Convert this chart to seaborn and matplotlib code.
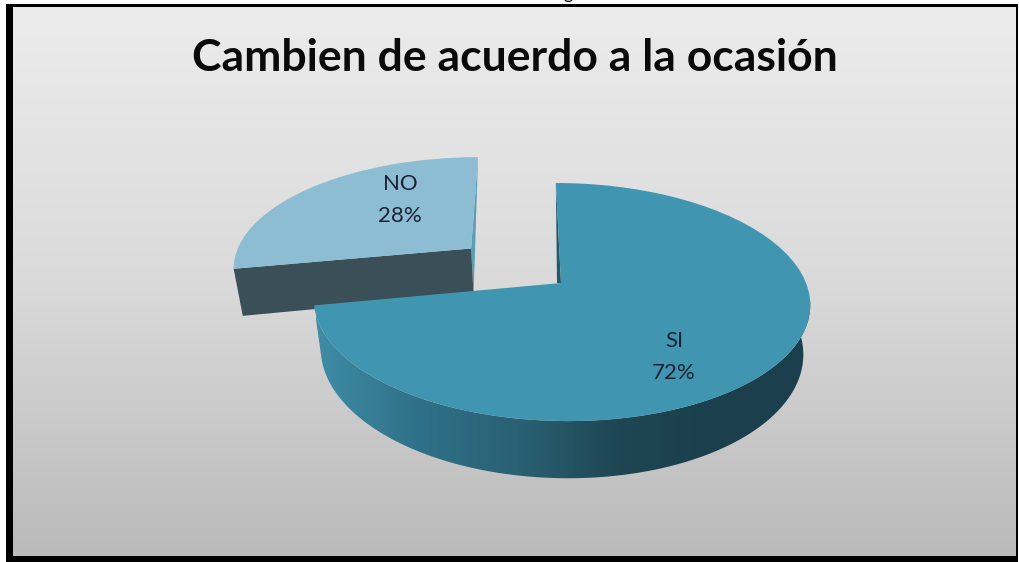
import numpy as np
import matplotlib
matplotlib.use('Agg')
import matplotlib.pyplot as plt
import matplotlib.transforms as mtransforms
from matplotlib.patches import Polygon, Rectangle
import seaborn as sns

# chart data
categories = ['SI', 'NO']
values = [72, 28]
title_text = 'Cambien de acuerdo a la ocasión'
explode = [0, 0.49]
top_colors = ['#4096b1', '#8dbdd3']

sns.set_theme(style='white')
plt.rcParams['font.family'] = ['Lato', 'DejaVu Sans']

# where the pie lands on the page, in pixels
CX, CY = 561, 283
RX, RY = 245, 116
PERSP = 0.16
SHEAR = 6
DEPTH = 48
SHRINK = 0.028


class PieProjection(mtransforms.Transform):
    """Tilts the flat pie (radius 1) into page pixels, z=1 is the underside."""
    input_dims = 2
    output_dims = 2

    def __init__(self, z=0.0):
        super().__init__()
        self.z = z

    def transform_non_affine(self, pts):
        pts = np.asarray(pts, dtype=float)
        u, v = pts[:, 0], pts[:, 1]
        w = 1 + PERSP * v
        x = CX + (RX * (1 - SHRINK * self.z) * u - SHEAR * v) / w
        y = CY + (DEPTH * self.z - RY * v) / w
        return np.column_stack([x, y])


def project(u, v, z=0.0):
    return PieProjection(z).transform_non_affine(np.column_stack([u, v]))


fig = plt.figure(figsize=(10.19, 5.62), dpi=100, facecolor='white')
ax = fig.add_axes([0, 0, 1, 1])

# pie gives the wedges, perspective is put on afterwards
wedges, _ = ax.pie(values, startangle=90, counterclock=False, explode=explode,
                   colors=top_colors, wedgeprops={'linewidth': 0})
ax.set_aspect('auto')
ax.set_frame_on(False)

# background
bg_cmap = sns.blend_palette(['#ececec', '#dadada', '#bababa'], as_cmap=True)
ax.imshow(np.linspace(0, 1, 256).reshape(-1, 1), cmap=bg_cmap, aspect='auto',
          extent=(8, 1017, 556, 6), zorder=0)

# black frame
for x, y, w, h in [(6, 4, 7, 555), (6, 4, 1012, 3), (6, 556, 1012, 6), (1016, 4, 2, 555)]:
    ax.add_patch(Rectangle((x, y), w, h, color='black', lw=0, zorder=1))

si, no = wedges
for wedge in wedges:
    wedge.set_transform(PieProjection() + ax.transData)

# NO slice: cut faces (going clockwise, theta1 is the top edge, theta2 the left one)
no_x, no_y = no.center
t_top, t_left = np.radians([no.theta1, no.theta2])
edge_left = (no_x + np.cos(t_left), no_y + np.sin(t_left))
edge_top = (no_x + np.cos(t_top), no_y + np.sin(t_top))
sliver = np.vstack([project([edge_top[0]], [edge_top[1]]),
                    project([no_x], [no_y]),
                    project([no_x], [no_y], 1)])
ax.add_patch(Polygon(sliver, color='#5b9fb6', lw=0, zorder=2))
cut = np.vstack([project([edge_left[0], no_x], [edge_left[1], no_y]),
                 project([no_x, edge_left[0]], [no_y, edge_left[1]], 1)])
ax.add_patch(Polygon(cut, color='#3b4f58', lw=0, zorder=2))
no.set_zorder(3)

# SI slice: outer wall with horizontal shading
theta = np.radians(np.linspace(si.theta1, 10, 200))
upper = project(np.cos(theta), np.sin(theta))
lower = project(np.cos(theta), np.sin(theta), 1)
wall = Polygon(np.vstack([upper, lower[::-1]]), transform=ax.transData)
wall_cmap = sns.blend_palette(['#3f8ca6', '#2f7188', '#2a6174', '#1e4653', '#1b3f4c', '#1b3f4c'],
                              as_cmap=True)
im = ax.imshow(np.linspace(0, 1, 256).reshape(1, -1), cmap=wall_cmap, aspect='auto',
               extent=(316, 820, 490, 300), zorder=4)
ax.add_patch(wall)
wall.set_visible(False)
im.set_clip_path(wall)

# SI slice: thin dark face next to the straight top edge
apex = project([0], [0])[0]
top_pt = project([0], [1])[0]
ax.add_patch(Polygon([top_pt, apex, apex - [4, 0]], color='#23596b', lw=0, zorder=4))
si.set_zorder(5)

ax.set_xlim(0, 1019)
ax.set_ylim(562, 0)

# labels
label_color = '#1c2233'
ax.text(400, 184, categories[1], ha='center', va='center', fontsize=16, color=label_color, zorder=6)
ax.text(400, 216, f'{values[1]}%', ha='center', va='center', fontsize=16, color=label_color, zorder=6)
ax.text(674, 341, categories[0], ha='center', va='center', fontsize=16, color=label_color, zorder=6)
ax.text(674, 373, f'{values[0]}%', ha='center', va='center', fontsize=16, color=label_color, zorder=6)

ax.text(514.5, 58, title_text, ha='center', va='center', fontsize=32, fontweight='bold',
        color='#0a0a0a', zorder=6)
# bit of a caption cut off by the top of the scan
ax.text(568, -1, 'g', ha='center', va='baseline', fontsize=13, color='black', zorder=6)

fig.savefig('out.png', dpi=100, facecolor='white')
